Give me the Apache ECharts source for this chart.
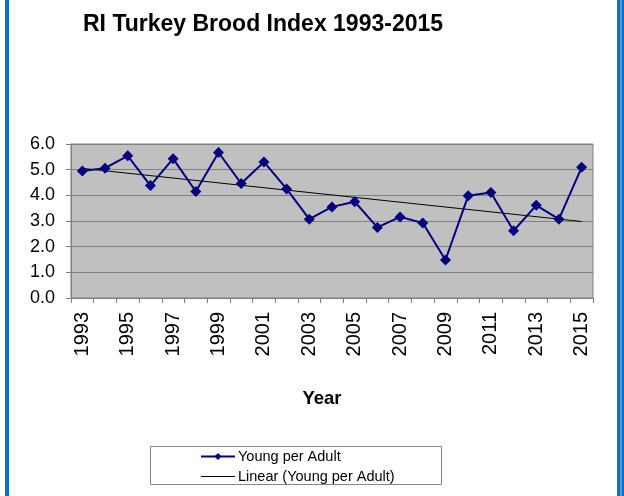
<!DOCTYPE html>
<html>
<head>
    <meta charset="UTF-8">
    <title>RI Turkey Brood Index</title>
    <style>
        * {
            margin: 0;
            padding: 0
        }

        #chart {
            width: 624px;
            height: 496px;
        }
    </style>
</head>
<body>
<div id="chart"></div>
<script type="text/javascript" src="https://cdn.jsdelivr.net/npm/echarts@6/dist/echarts.min.js"></script>
<script type="text/javascript">
    // 年份
    var years = ['1993', '1994', '1995', '1996', '1997', '1998', '1999', '2000', '2001', '2002', '2003', '2004',
        '2005', '2006', '2007', '2008', '2009', '2010', '2011', '2012', '2013', '2014', '2015'];
    // Young per Adult
    var youngPerAdult = [4.95, 5.06, 5.54, 4.38, 5.43, 4.15, 5.67, 4.46, 5.30, 4.25, 3.07, 3.55,
        3.75, 2.75, 3.16, 2.92, 1.48, 3.98, 4.11, 2.62, 3.61, 3.07, 5.09];
    // 趋势线两端 (1993, 2015)
    var trendYears = ['1993', '2015'];
    var trendValues = [5.05, 2.98];
    var yTicks = [0, 1, 2, 3, 4, 5, 6];

    var font = 'Liberation Sans, Arial, sans-serif';
    var myChart = echarts.init(document.getElementById('chart'));

    var trendData = [];
    for (var i = 0; i < trendYears.length; i++) {
        trendData.push([trendYears[i], trendValues[i]]);
    }

    var option = {
        backgroundColor: '#fff',
        animation: false,
        title: {
            text: 'RI Turkey Brood Index 1993-2015',
            left: 78,
            top: 8,
            textStyle: {
                fontFamily: font,
                fontSize: 23,
                fontWeight: 'bold',
                color: '#000'
            }
        },
        grid: {
            left: 71,
            right: 31,
            top: 144,
            bottom: 198,
            show: true,
            backgroundColor: '#c0c0c0',
            borderColor: '#808080',
            borderWidth: 1
        },
        legend: {
            orient: 'vertical',
            left: 195,
            top: 444,
            itemWidth: 34,
            itemHeight: 9,
            itemGap: 5,
            textStyle: {
                fontFamily: font,
                fontSize: 14.5,
                color: '#000',
                padding: [0, 0, 0, -2]
            },
            data: [
                {name: 'Young per Adult'},
                // 趋势线图例只画线
                {name: 'Linear (Young per Adult)', icon: 'path://M0,0L34,0L34,1L0,1Z'}
            ]
        },
        xAxis: {
            type: 'category',
            data: years,
            boundaryGap: true,
            name: 'Year',
            nameLocation: 'middle',
            nameGap: 91,
            nameTextStyle: {
                fontFamily: font,
                fontSize: 18.5,
                fontWeight: 'bold',
                color: '#000',
                padding: [0, 20, 0, 0]
            },
            axisLine: {lineStyle: {color: '#808080'}},
            axisTick: {show: true, interval: 0, length: 5, lineStyle: {color: '#808080'}},
            axisLabel: {
                interval: 1,
                rotate: 90,
                margin: 14,
                fontFamily: font,
                fontSize: 20,
                color: '#000'
            },
            splitLine: {show: false}
        },
        yAxis: {
            type: 'value',
            min: yTicks[0],
            max: yTicks[yTicks.length - 1],
            interval: 1,
            axisLine: {show: true, lineStyle: {color: '#808080'}},
            axisTick: {show: true, length: 5, lineStyle: {color: '#808080'}},
            axisLabel: {
                margin: 16,
                fontFamily: font,
                fontSize: 18,
                color: '#000',
                formatter: function (v) {
                    return v.toFixed(1);
                }
            },
            splitLine: {lineStyle: {color: '#808080', width: 1}}
        },
        series: [
            {
                name: 'Young per Adult',
                type: 'line',
                data: youngPerAdult,
                symbol: 'diamond',
                symbolSize: 11,
                lineStyle: {color: '#000080', width: 2},
                itemStyle: {color: '#000080'},
                z: 3
            },
            {
                name: 'Linear (Young per Adult)',
                type: 'line',
                data: trendData,
                symbol: 'none',
                lineStyle: {color: '#000', width: 1},
                itemStyle: {color: '#000'},
                z: 2
            }
        ],
        graphic: [
            // 图例外框
            {
                type: 'rect',
                shape: {x: 150.5, y: 446.5, width: 291, height: 38},
                style: {fill: null, stroke: '#888', lineWidth: 1},
                z: -1
            },
            // 左右两边的蓝色边框
            {
                type: 'rect',
                shape: {x: 5, y: 0, width: 4, height: 496},
                style: {fill: '#0a72c4'}
            },
            {
                type: 'rect',
                shape: {x: 617, y: 0, width: 7, height: 496},
                style: {fill: '#0a72c4'}
            },
            {
                type: 'rect',
                shape: {x: 620.5, y: 0, width: 1, height: 496},
                style: {fill: '#8fc3ea'}
            }
        ]
    };

    myChart.setOption(option);
</script>
</body>
</html>
